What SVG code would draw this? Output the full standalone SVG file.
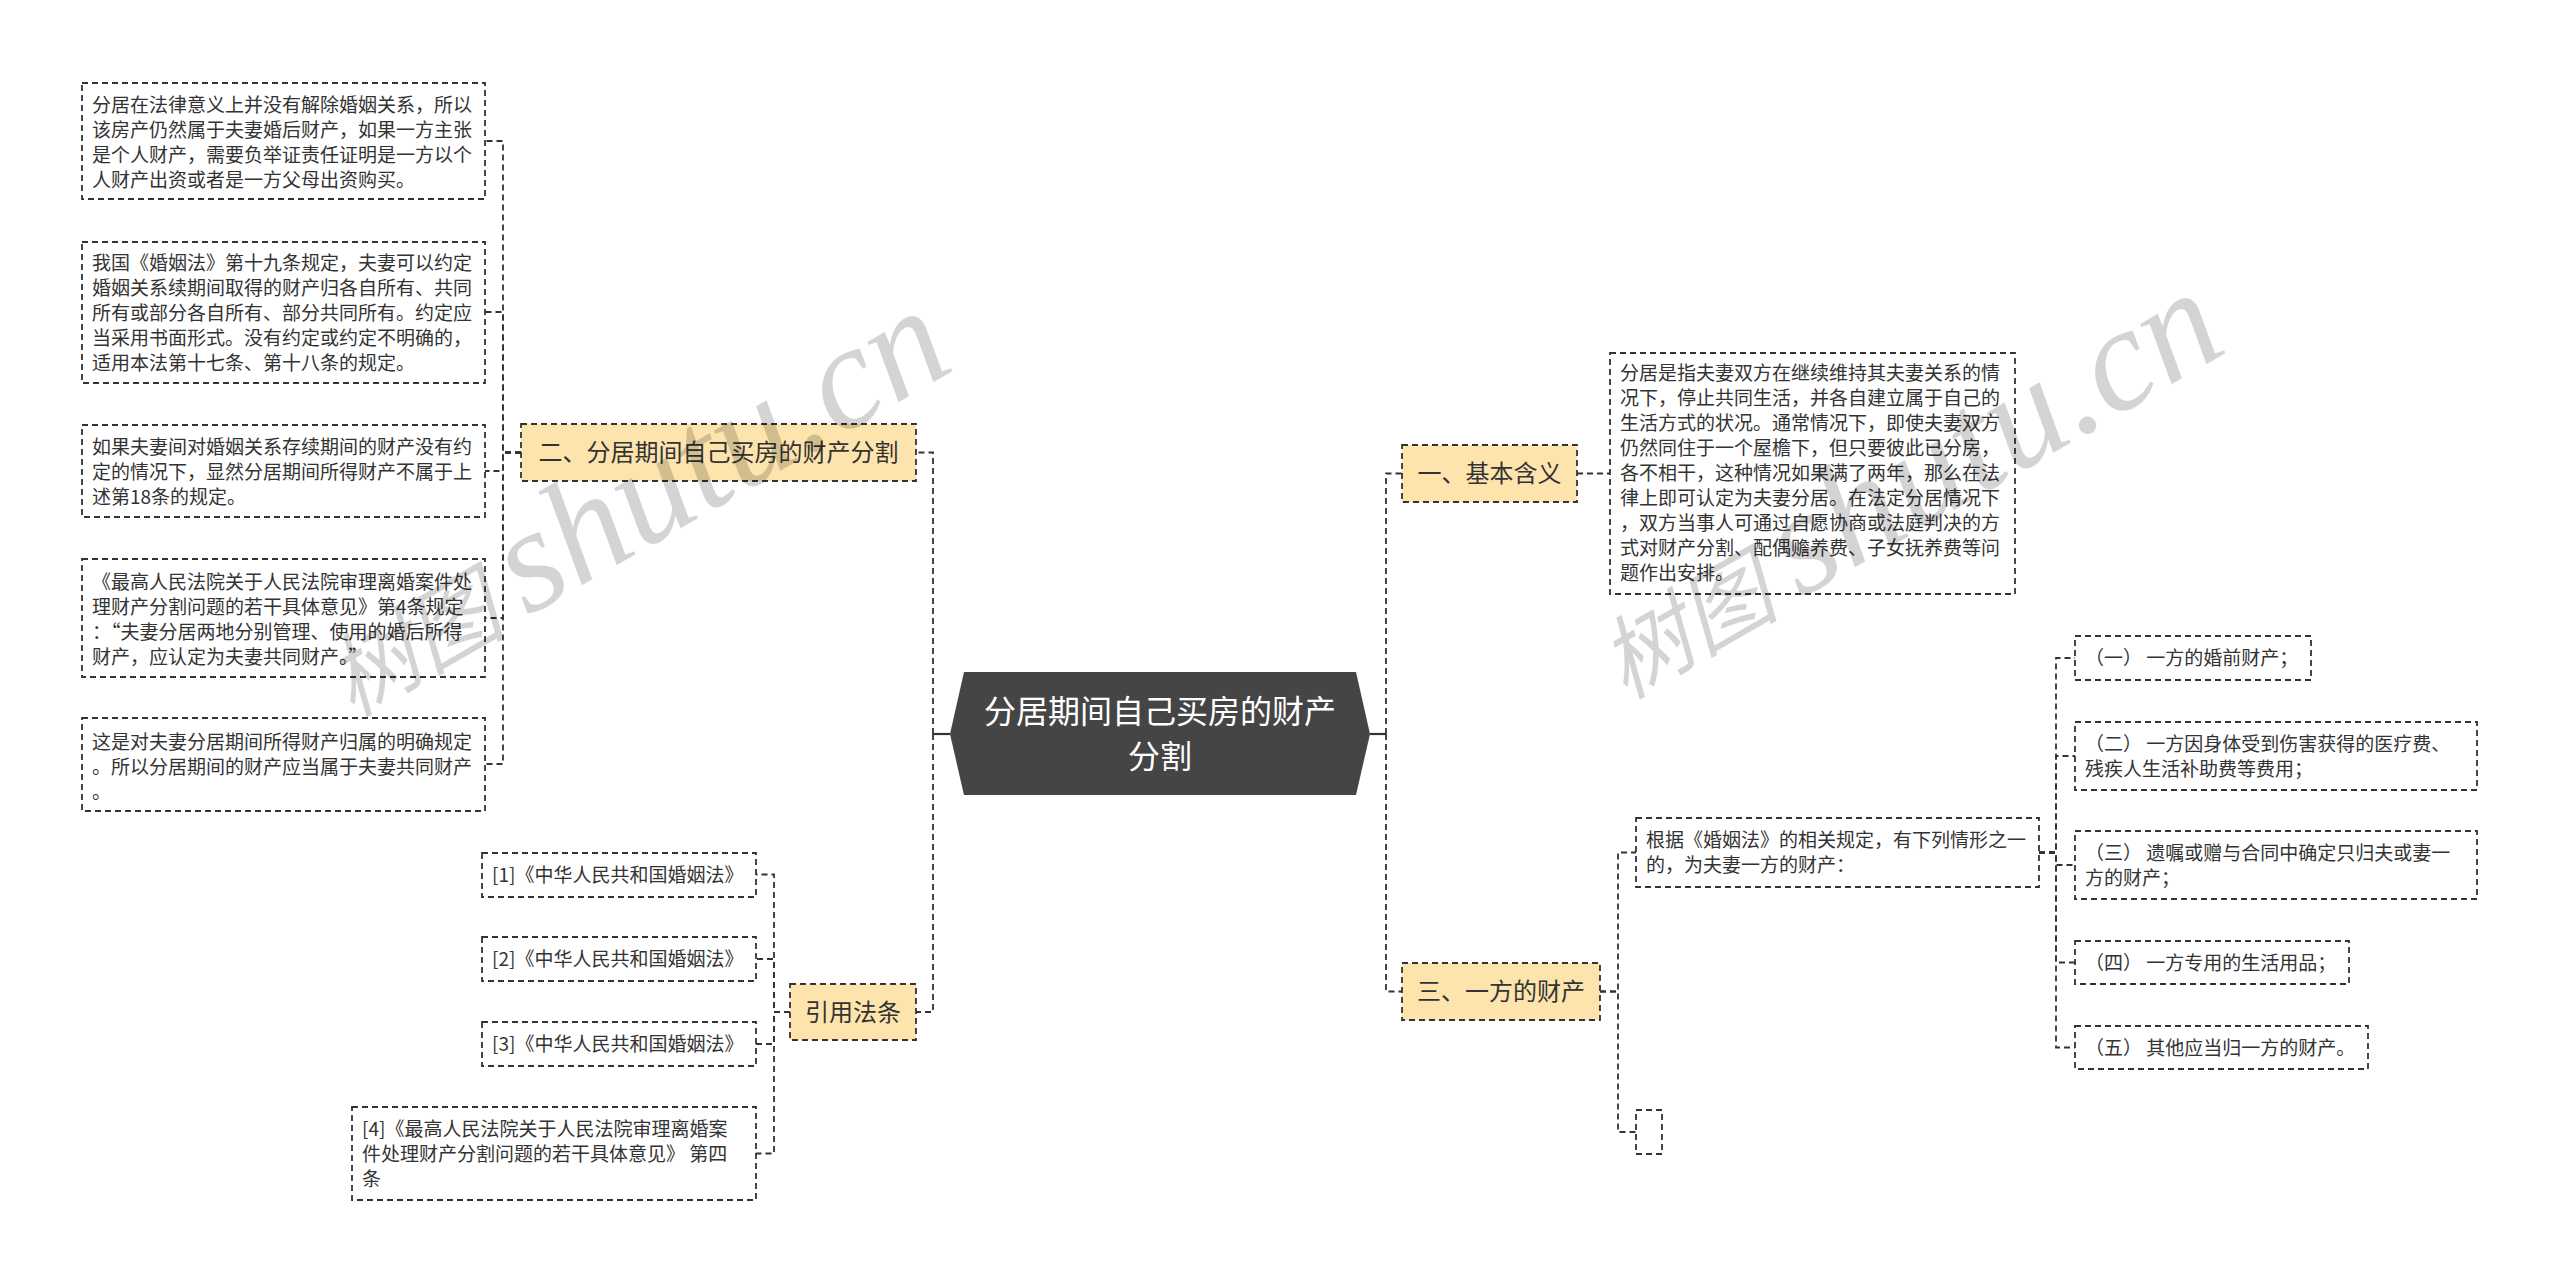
<svg xmlns="http://www.w3.org/2000/svg" width="2560" height="1283" viewBox="0 0 2560 1283">
<style>
text{font-family:"Noto Sans CJK SC","Microsoft YaHei","Liberation Sans",sans-serif;fill:#333}
.leaf rect{fill:#fff;stroke:#333;stroke-width:1.8;stroke-dasharray:6 4}
.leaf text{font-size:19px}
.branch rect{fill:#fde4ad;stroke:#333;stroke-width:1.8;stroke-dasharray:6 4}
.branch text{font-size:24px;text-anchor:middle}
.conn path{fill:none;stroke:#333;stroke-width:1.8;stroke-dasharray:6 4}
.conn .solid{stroke-dasharray:none;stroke-width:2.2}
.wm{font-family:"Liberation Serif","Noto Sans CJK SC",serif;font-style:italic;fill:#000;fill-opacity:0.17}
</style>
<rect width="2560" height="1283" fill="#fff"/>
<g id="connectors" class="conn">
<path class="solid" d="M950 734H933"/>
<path class="solid" d="M1370 734H1386"/>
<path d="M933 734V452.5H916"/>
<path d="M933 734V1012H916"/>
<path d="M521 452.5H503V141H485"/>
<path d="M521 452.5H503V312H485"/>
<path d="M521 452.5H503V471H485"/>
<path d="M521 452.5H503V618H485"/>
<path d="M521 452.5H503V764H485"/>
<path d="M790 1012H774V874.5H756"/>
<path d="M790 1012H774V959H756"/>
<path d="M790 1012H774V1044H756"/>
<path d="M790 1012H774V1153.5H756"/>
<path d="M1386 734V473.5H1402"/>
<path d="M1386 734V991.5H1402"/>
<path d="M1577 473.5H1610"/>
<path d="M1600 991.5H1618V852.5H1636"/>
<path d="M1600 991.5H1618V1132H1636"/>
<path d="M2039 852.5H2056V658H2075"/>
<path d="M2039 852.5H2056V756H2075"/>
<path d="M2039 852.5H2056V865H2075"/>
<path d="M2039 852.5H2056V962.5H2075"/>
<path d="M2039 852.5H2056V1047.5H2075"/>
</g>
<g id="root">
<polygon points="964,672 1356,672 1370,734 1356,795 964,795 950,734" fill="#454545"/>
<text x="1160" y="723" font-size="32" text-anchor="middle" style="fill:#fff">分居期间自己买房的财产</text>
<text x="1160" y="768" font-size="32" text-anchor="middle" style="fill:#fff">分割</text>
</g>
<g id="n2" class="branch"><rect x="521" y="424" width="395" height="57"/><text x="718.5" y="461">二、分居期间自己买房的财产分割</text></g>
<g id="n-ref" class="branch"><rect x="790" y="984" width="126" height="56"/><text x="853" y="1021">引用法条</text></g>
<g id="n1" class="branch"><rect x="1402" y="445" width="175" height="57"/><text x="1489.5" y="482">一、基本含义</text></g>
<g id="n3" class="branch"><rect x="1402" y="963" width="198" height="57"/><text x="1501" y="1000">三、一方的财产</text></g>
<g id="b1" class="leaf"><rect x="82" y="83" width="403" height="116"/>
<text x="92" y="112">分居在法律意义上并没有解除婚姻关系，所以</text>
<text x="92" y="137">该房产仍然属于夫妻婚后财产，如果一方主张</text>
<text x="92" y="162">是个人财产，需要负举证责任证明是一方以个</text>
<text x="92" y="187">人财产出资或者是一方父母出资购买。</text></g>
<g id="b2" class="leaf"><rect x="82" y="242" width="403" height="141"/>
<text x="92" y="270">我国《婚姻法》第十九条规定，夫妻可以约定</text>
<text x="92" y="295">婚姻关系续期间取得的财产归各自所有、共同</text>
<text x="92" y="320">所有或部分各自所有、部分共同所有。约定应</text>
<text x="92" y="345">当采用书面形式。没有约定或约定不明确的，</text>
<text x="92" y="370">适用本法第十七条、第十八条的规定。</text></g>
<g id="b3" class="leaf"><rect x="82" y="425" width="403" height="92"/>
<text x="92" y="454">如果夫妻间对婚姻关系存续期间的财产没有约</text>
<text x="92" y="479">定的情况下，显然分居期间所得财产不属于上</text>
<text x="92" y="504">述第18条的规定。</text></g>
<g id="b4" class="leaf"><rect x="82" y="559" width="403" height="118"/>
<text x="92" y="589">《最高人民法院关于人民法院审理离婚案件处</text>
<text x="92" y="614">理财产分割问题的若干具体意见》第4条规定</text>
<text x="92" y="639">：“夫妻分居两地分别管理、使用的婚后所得</text>
<text x="92" y="664">财产，应认定为夫妻共同财产。”</text></g>
<g id="b5" class="leaf"><rect x="82" y="718" width="403" height="93"/>
<text x="92" y="749">这是对夫妻分居期间所得财产归属的明确规定</text>
<text x="92" y="774">。所以分居期间的财产应当属于夫妻共同财产</text>
<text x="92" y="799">。</text></g>
<g id="r1" class="leaf"><rect x="482" y="853" width="274" height="44"/><text x="492" y="881.5">[1]《中华人民共和国婚姻法》</text></g>
<g id="r2" class="leaf"><rect x="482" y="937" width="274" height="44"/><text x="492" y="966">[2]《中华人民共和国婚姻法》</text></g>
<g id="r3" class="leaf"><rect x="482" y="1022" width="274" height="44"/><text x="492" y="1051">[3]《中华人民共和国婚姻法》</text></g>
<g id="r4" class="leaf"><rect x="352" y="1107" width="404" height="93"/>
<text x="362" y="1136">[4]《最高人民法院关于人民法院审理离婚案</text>
<text x="362" y="1161">件处理财产分割问题的若干具体意见》 第四</text>
<text x="362" y="1186">条</text></g>
<g id="def" class="leaf"><rect x="1610" y="353" width="405" height="241"/>
<text x="1620" y="380">分居是指夫妻双方在继续维持其夫妻关系的情</text>
<text x="1620" y="405">况下，停止共同生活，并各自建立属于自己的</text>
<text x="1620" y="430">生活方式的状况。通常情况下，即使夫妻双方</text>
<text x="1620" y="455">仍然同住于一个屋檐下，但只要彼此已分房，</text>
<text x="1620" y="480">各不相干，这种情况如果满了两年，那么在法</text>
<text x="1620" y="505">律上即可认定为夫妻分居。在法定分居情况下</text>
<text x="1620" y="530">，双方当事人可通过自愿协商或法庭判决的方</text>
<text x="1620" y="555">式对财产分割、配偶赡养费、子女抚养费等问</text>
<text x="1620" y="580">题作出安排。</text></g>
<g id="gj" class="leaf"><rect x="1636" y="818" width="403" height="69"/>
<text x="1646" y="847">根据《婚姻法》的相关规定，有下列情形之一</text>
<text x="1646" y="872">的，为夫妻一方的财产：</text></g>
<g id="empty" class="leaf"><rect x="1636" y="1110" width="26" height="44"/></g>
<g id="i1" class="leaf"><rect x="2075" y="636" width="236" height="44"/><text x="2085" y="665">（一） 一方的婚前财产；</text></g>
<g id="i2" class="leaf"><rect x="2075" y="722" width="402" height="68"/>
<text x="2085" y="751">（二） 一方因身体受到伤害获得的医疗费、</text>
<text x="2085" y="776">残疾人生活补助费等费用；</text></g>
<g id="i3" class="leaf"><rect x="2075" y="831" width="402" height="68"/>
<text x="2085" y="859.5">（三） 遗嘱或赠与合同中确定只归夫或妻一</text>
<text x="2085" y="884.5">方的财产；</text></g>
<g id="i4" class="leaf"><rect x="2075" y="941" width="274" height="43"/><text x="2085" y="969.5">（四） 一方专用的生活用品；</text></g>
<g id="i5" class="leaf"><rect x="2075" y="1026" width="293" height="43"/><text x="2085" y="1054.5">（五） 其他应当归一方的财产。</text></g>
<g id="watermarks">
<text class="wm" transform="translate(352,718) rotate(-30)"><tspan font-size="90">树图 </tspan><tspan font-size="148">shutu.cn</tspan></text>
<text class="wm" transform="translate(1625,700) rotate(-30)"><tspan font-size="90">树图 </tspan><tspan font-size="148">shutu.cn</tspan></text>
</g>
</svg>
